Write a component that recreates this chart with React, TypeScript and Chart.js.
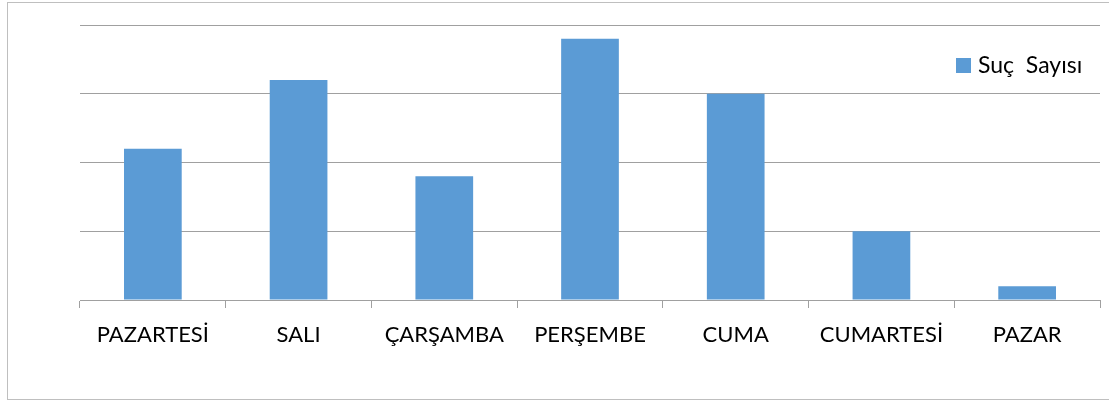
import React, { useEffect, useRef } from "react";
import { Chart, registerables } from "chart.js";

Chart.register(...registerables);

const categories = ["PAZARTESİ", "SALI", "ÇARŞAMBA", "PERŞEMBE", "CUMA", "CUMARTESİ", "PAZAR"];
const seriesName = "Suç  Sayısı";
const values = [11, 16, 9, 19, 15, 5, 1];
const yMax = 20;
const yStep = 5;

const FONT = "Lato";
const BAR = "#5B9BD5";
const GRID = "#A0A0A0";

const framePlugin = {
  id: "frame",
  beforeDraw(chart: any) {
    const ctx = chart.ctx;
    ctx.save();
    ctx.fillStyle = "#ffffff";
    ctx.fillRect(0, 0, chart.width, chart.height);
    ctx.strokeStyle = "#BFBFBF";
    ctx.lineWidth = 1;
    ctx.strokeRect(7.5, 2.5, chart.width + 10, chart.height - 4);
    ctx.restore();
  },
  afterDraw(chart: any) {
    const ctx = chart.ctx;
    const ds = chart.data.datasets[0];
    ctx.save();
    ctx.fillStyle = ds.backgroundColor;
    ctx.fillRect(956, 58, 15, 15);
    ctx.fillStyle = "#000000";
    ctx.font = `23px ${FONT}`;
    ctx.textBaseline = "middle";
    ctx.textAlign = "left";
    ctx.fillText(ds.label, 978, 66);
    ctx.restore();
  },
};

export default function App() {
  const ref = useRef<HTMLCanvasElement | null>(null);
  useEffect(() => {
    document.body.style.margin = "0";
    const chart = new Chart(ref.current!, {
      type: "bar",
      data: {
        labels: categories,
        datasets: [
          {
            label: seriesName,
            data: values,
            backgroundColor: BAR,
            borderWidth: 0,
            categoryPercentage: 1,
            barPercentage: 0.396,
          },
        ],
      },
      options: {
        animation: false,
        responsive: false,
        maintainAspectRatio: false,
        layout: { padding: { left: 0, top: 25, right: 9, bottom: 0 } },
        plugins: { legend: { display: false }, tooltip: { enabled: false } },
        scales: {
          x: {
            grid: { display: true, drawOnChartArea: false, drawTicks: true, tickLength: 8, color: GRID, lineWidth: 1 },
            border: { display: true, color: GRID, width: 1 },
            ticks: { color: "#000000", font: { family: FONT, size: 22 }, padding: 14, maxRotation: 0, autoSkip: false },
            afterFit: (s: any) => {
              s.height = 101;
            },
          },
          y: {
            min: 0,
            max: yMax,
            ticks: { display: false, stepSize: yStep },
            grid: { color: GRID, lineWidth: 1, drawTicks: false },
            border: { display: false },
            afterFit: (s: any) => {
              s.width = 80;
            },
          },
        },
      },
      plugins: [framePlugin],
    });
    return () => chart.destroy();
  }, []);
  return (
    <div style={{ width: 1109, height: 401 }}>
      <canvas ref={ref} width={1109} height={401} style={{ display: "block" }} />
    </div>
  );
}
